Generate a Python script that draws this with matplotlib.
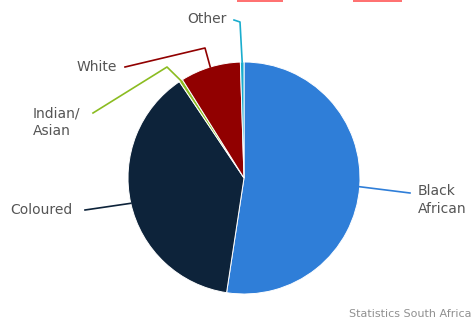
import numpy as np
import matplotlib
matplotlib.use("Agg")
import matplotlib.pyplot as plt
from matplotlib.patches import Rectangle

# population shares (%)
groups = ['Black\nAfrican', 'Coloured', 'Indian/\nAsian', 'White', 'Other']
shares = [52.4, 38.2, 0.5, 8.4, 0.5]
colors = ['#2f7ed8', '#0d233a', '#8bbc21', '#910000', '#1aadce']

# label anchor positions (pixel coords, y from top) and alignment
label_pos = [(418, 200), (10, 210), (33, 122), (77, 67), (187, 19)]
label_ha = ['left', 'left', 'left', 'left', 'left']
# elbow of connector lines (pixel coords), None = straight
elbows = [None, None, (167, 67), (205, 48), (240, 22)]
line_end = [(410, 193), (85, 210), (93, 113), (125, 67), (234, 20)]

W, H = 475, 319
cx, cy, r = 244, H - 178, 116

fig = plt.figure(figsize=(W / 100, H / 100), dpi=100)
ax = fig.add_axes([0, 0, 1, 1])
ax.pie(shares, colors=colors, startangle=90, counterclock=False,
       center=(cx, cy), radius=r, frame=True,
       wedgeprops=dict(edgecolor='white', linewidth=0.7))
ax.set_xlim(0, W)
ax.set_ylim(0, H)
ax.set_aspect('equal')
ax.axis('off')

# connectors + labels
cum = np.cumsum([0] + shares[:-1])
for i, g in enumerate(groups):
    mid = 90 - (cum[i] + shares[i] / 2) * 3.6
    a = np.deg2rad(mid)
    ex, ey = cx + r * np.cos(a), cy + r * np.sin(a)
    xs, ys = [ex], [ey]
    if elbows[i] is not None:
        xs.append(elbows[i][0]); ys.append(H - elbows[i][1])
    xs.append(line_end[i][0]); ys.append(H - line_end[i][1])
    ax.plot(xs, ys, color=colors[i], lw=1.2, solid_joinstyle='round')
    ax.text(label_pos[i][0], H - label_pos[i][1], g, ha=label_ha[i],
            va='center', fontsize=10, color='#555555', linespacing=1.35)

# clipped red marks at the top edge
for x0, x1 in [(237, 283), (353, 402)]:
    ax.add_patch(Rectangle((x0, H - 2), x1 - x0, 2, color='#ff7272', lw=0))

ax.text(349, H - 314, 'Statistics South Africa', fontsize=8,
        color='#909090', ha='left', va='center', clip_on=True)

fig.savefig('out.png', dpi=100)
